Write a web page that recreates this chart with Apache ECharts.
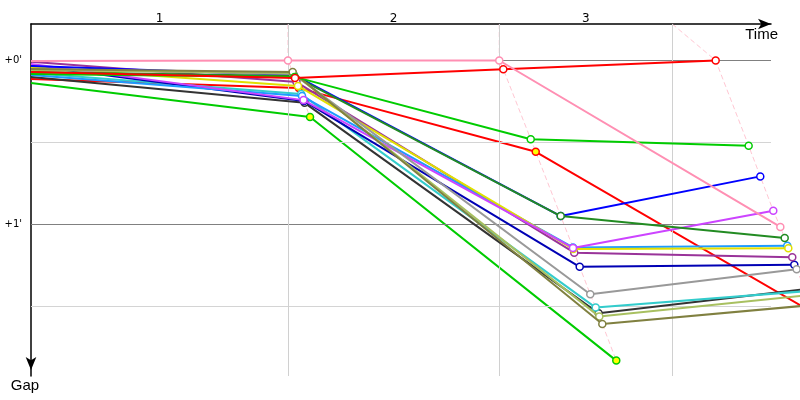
<!DOCTYPE html>
<html><head><meta charset="utf-8">
<script src="https://cdn.jsdelivr.net/npm/echarts@6/dist/echarts.min.js"></script>
<style>html,body{margin:0;padding:0;background:#fff}#c{width:800px;height:400px}</style>
</head><body><div id="c"></div>
<script>
// Lap labels (top axis) and reference lap lines, time in seconds
const lapLabels = ['1', '2', '3'];
const lapLabelTimes = [120.5, 340.0, 520.1];
const lapGridTimes = [240.9, 439.0, 601.2];
// Gap axis (seconds)
const gapTickValues = [0, 60];
const gapTickLabels = ["+0'", "+1'"];
const gapMajorLines = [0, 60];
const gapMinorLines = [30, 90];

// Each car: [time s, gap s] at start, lap 1, lap 2, lap 3
const carGreenB     = [[0, 8.2], [261.6, 20.7], [548.7, 109.8]];
const carRedB       = [[0, 6.8], [251.1, 10.1], [473.2, 33.4], [734.3, 92.5]];
const carOlive      = [[0, 3.1], [245.3, 4.2], [535.6, 96.4], [731.3, 89.5]];
const carLightOlive = [[0, 3.5], [245.6, 4.6], [532.8, 93.7], [727.7, 85.9]];
const carBlack      = [[0, 6.0], [256.5, 15.5], [532.2, 92.5], [725.4, 83.7]];
const carTeal       = [[0, 4.6], [253.3, 12.3], [529.4, 90.4], [726.2, 84.4]];
const carGray       = [[0, 3.1], [246.0, 4.9], [524.3, 85.5], [717.8, 76.4]];
const carNavy       = [[0, 1.8], [255.9, 14.8], [514.4, 75.5], [715.6, 74.7]];
const carPurple     = [[0, 0.5], [248.9, 7.9], [509.3, 70.3], [713.7, 72.0]];
const carLightBlue  = [[0, 5.3], [254.1, 13.0], [508.1, 68.4], [709.0, 67.8]];
const carYellow     = [[0, 2.4], [250.3, 9.3], [508.4, 69.0], [710.0, 68.7]];
const carMagenta    = [[0, 1.3], [255.5, 14.5], [508.1, 68.6], [695.9, 55.0]];
const carDarkGreen  = [[0, 4.2], [246.8, 5.7], [496.6, 56.9], [706.6, 64.9]];
const carBlue       = [[0, 2.0], [246.4, 5.3], [496.6, 56.9], [683.7, 42.4]];
const carGreenA     = [[0, 4.9], [247.1, 6.0], [468.5, 28.8], [672.8, 31.2]];
const carRedA       = [[0, 4.2], [247.5, 6.4], [442.8, 3.2], [641.9, 0]];
const carPink       = [[0, 0.2], [240.9, 0], [439.0, 0], [702.5, 60.9]];

const cars = [carGreenB, carRedB, carBlack, carTeal, carNavy, carPurple, carLightBlue, carYellow,
  carMagenta, carBlue, carDarkGreen, carGray, carLightOlive, carOlive, carGreenA, carRedA, carPink];
const carColors = ['#00cc00', '#ff0000', '#333333', '#33cccc', '#0000b4', '#993399', '#1e9bff', '#e0e000',
  '#cc44ff', '#0000ff', '#228b22', '#999999', '#a8c060', '#808040', '#00cc00', '#ff0000', '#ff8fb3'];
const carMarkerFills = ['#ffff00', '#ffff00', '#fff', '#fff', '#fff', '#fff', '#fff', '#fff',
  '#fff', '#fff', '#fff', '#fff', '#fff', '#fff', '#fff', '#fff', '#fff'];

const xMin = 0, xMax = 693.75;     // axis frame (grid right edge at 771px)
const xMaxWide = 720.94;           // same scale, plot area for the traces runs to the right edge
const yMin = -13.35, yMax = 115.43;

const chart = echarts.init(document.getElementById('c'), null, {renderer: 'canvas'});

const series = [];
// grid lines (frame grid)
series.push({
  type: 'line', data: [], silent: true, z: 1, xAxisIndex: 0, yAxisIndex: 0,
  markLine: {
    silent: true, symbol: 'none', animation: false, label: {show: false},
    data: [
      ...gapMinorLines.map(v => ({yAxis: v, lineStyle: {color: '#d4d4d4', width: 1, type: 'solid'}})),
      ...gapMajorLines.map(v => ({yAxis: v, lineStyle: {color: '#808080', width: 1, type: 'solid'}})),
      ...lapGridTimes.map(v => ({xAxis: v, lineStyle: {color: '#d0d0d0', width: 1, type: 'solid'}}))
    ]
  }
});
// dashed lap lines built from the cars' lap points
for (let lap = 1; lap <= 3; lap++) {
  const pts = cars.filter(c => c.length > lap).map(c => c[lap]).sort((a, b) => a[1] - b[1]);
  series.push({
    type: 'line', z: 2, silent: true, symbol: 'none', xAxisIndex: 1, yAxisIndex: 1,
    lineStyle: {color: 'rgba(255,160,180,0.6)', width: 1, type: [5, 3]},
    data: [[lapGridTimes[lap - 1], yMin]].concat(pts)
  });
}
cars.forEach((c, i) => {
  series.push({
    type: 'line', z: 3 + i, xAxisIndex: 1, yAxisIndex: 1,
    symbol: 'circle', symbolSize: 7,
    lineStyle: {color: carColors[i], width: 2},
    itemStyle: {color: carMarkerFills[i], borderColor: carColors[i], borderWidth: 1.5},
    data: c.map((p, k) => k === 0 ? {value: p, symbol: 'none'} : {value: p})
  });
});

chart.setOption({
  animation: false,
  backgroundColor: '#fff',
  grid: [
    {left: 31, right: 29, top: 24, bottom: 24},
    {left: 31, right: 0, top: 24, bottom: 24}
  ],
  xAxis: [{
    type: 'value', gridIndex: 0, position: 'top', min: xMin, max: xMax,
    splitLine: {show: false}, axisTick: {show: false},
    axisLine: {show: true, onZero: false, lineStyle: {color: '#000', width: 1.5}, symbol: ['none', 'arrow'], symbolSize: [8, 13]},
    axisLabel: {
      customValues: lapLabelTimes, margin: -1, color: '#000', fontSize: 12, fontFamily: 'DejaVu Sans',
      formatter: v => lapLabels[lapLabelTimes.indexOf(v)]
    },
    name: 'Time', nameLocation: 'end', nameGap: 7,
    nameTextStyle: {align: 'right', verticalAlign: 'top', padding: [3, 0, 0, 0], fontSize: 15, fontFamily: 'Liberation Sans', color: '#000'}
  }, {
    type: 'value', gridIndex: 1, min: xMin, max: xMaxWide, show: false
  }],
  yAxis: [{
    type: 'value', gridIndex: 0, inverse: true, min: yMin, max: yMax,
    splitLine: {show: false}, axisTick: {show: false},
    axisLine: {show: true, onZero: false, lineStyle: {color: '#000', width: 1.5}, symbol: ['arrow', 'none'], symbolSize: [8, 13], symbolOffset: [6, 0]},
    axisLabel: {
      customValues: gapTickValues, margin: 9, color: '#000', fontSize: 10, fontFamily: 'DejaVu Sans',
      formatter: v => gapTickLabels[gapTickValues.indexOf(v)]
    },
    name: 'Gap', nameLocation: 'end', nameGap: 0,
    nameTextStyle: {align: 'center', verticalAlign: 'top', padding: [2, 12, 0, 0], fontSize: 15, fontFamily: 'Liberation Sans', color: '#000'}
  }, {
    type: 'value', gridIndex: 1, inverse: true, min: yMin, max: yMax, show: false
  }],
  series: series
});
</script></body></html>
